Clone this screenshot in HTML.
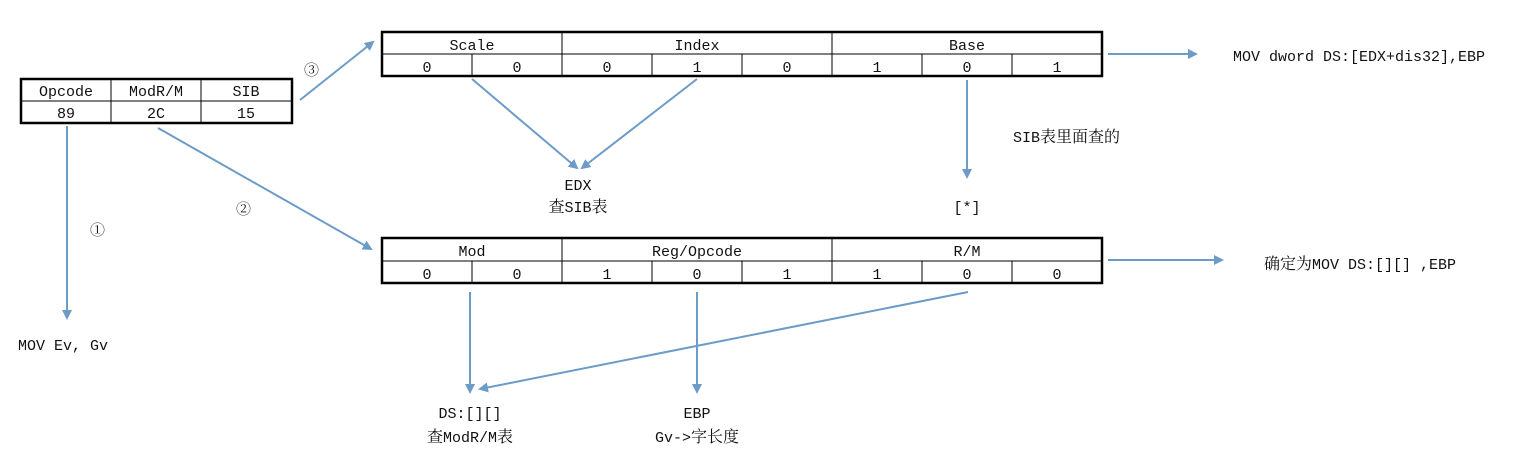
<!DOCTYPE html>
<html><head><meta charset="utf-8"><style>
html,body{margin:0;padding:0;background:#fff;}
svg{display:block;}
text{font-family:"Liberation Mono","Noto Serif CJK SC",monospace;font-size:15px;fill:#111;}
.k{font-family:"Noto Serif CJK SC","Noto Sans CJK SC",serif;font-size:16px;}
.c{text-anchor:middle;}
.ar{stroke:#6d9bc7;stroke-width:2;fill:none;}
.tb{stroke:#000;fill:none;}
</style></head><body>
<svg width="1536" height="453" viewBox="0 0 1536 453" xmlns="http://www.w3.org/2000/svg">
<defs><marker id="ah" markerWidth="10" markerHeight="10" refX="8" refY="5" orient="auto" markerUnits="userSpaceOnUse"><path d="M0,0 L10,5 L0,10 z" fill="#6d9bc7"/></marker></defs>

<g>
<rect class="tb" x="21" y="79" width="271" height="44" stroke-width="2.5"/>
<line class="tb" x1="21" y1="101" x2="292" y2="101" stroke-width="1"/>
<line class="tb" x1="111" y1="79" x2="111" y2="123" stroke-width="1"/>
<line class="tb" x1="201" y1="79" x2="201" y2="123" stroke-width="1"/>
<text class="c" x="66" y="96">Opcode</text><text class="c" x="156" y="96">ModR/M</text><text class="c" x="246" y="96">SIB</text>
<text class="c" x="66" y="118">89</text><text class="c" x="156" y="118">2C</text><text class="c" x="246" y="118">15</text>
</g>

<g>
<rect class="tb" x="382" y="32" width="720" height="44" stroke-width="2.5"/>
<line class="tb" x1="382" y1="54" x2="1102" y2="54" stroke-width="1"/>
<line class="tb" x1="562" y1="32" x2="562" y2="76" stroke-width="1"/>
<line class="tb" x1="832" y1="32" x2="832" y2="76" stroke-width="1"/>
<line class="tb" x1="472" y1="54" x2="472" y2="76" stroke-width="1"/>
<line class="tb" x1="652" y1="54" x2="652" y2="76" stroke-width="1"/>
<line class="tb" x1="742" y1="54" x2="742" y2="76" stroke-width="1"/>
<line class="tb" x1="922" y1="54" x2="922" y2="76" stroke-width="1"/>
<line class="tb" x1="1012" y1="54" x2="1012" y2="76" stroke-width="1"/>
<text class="c" x="472" y="50">Scale</text><text class="c" x="697" y="50">Index</text><text class="c" x="967" y="50">Base</text>
<text class="c" x="427" y="72">0</text><text class="c" x="517" y="72">0</text><text class="c" x="607" y="72">0</text><text class="c" x="697" y="72">1</text><text class="c" x="787" y="72">0</text><text class="c" x="877" y="72">1</text><text class="c" x="967" y="72">0</text><text class="c" x="1057" y="72">1</text>
</g>

<g>
<rect class="tb" x="382" y="238" width="720" height="45" stroke-width="2.5"/>
<line class="tb" x1="382" y1="261" x2="1102" y2="261" stroke-width="1"/>
<line class="tb" x1="562" y1="238" x2="562" y2="283" stroke-width="1"/>
<line class="tb" x1="832" y1="238" x2="832" y2="283" stroke-width="1"/>
<line class="tb" x1="472" y1="261" x2="472" y2="283" stroke-width="1"/>
<line class="tb" x1="652" y1="261" x2="652" y2="283" stroke-width="1"/>
<line class="tb" x1="742" y1="261" x2="742" y2="283" stroke-width="1"/>
<line class="tb" x1="922" y1="261" x2="922" y2="283" stroke-width="1"/>
<line class="tb" x1="1012" y1="261" x2="1012" y2="283" stroke-width="1"/>
<text class="c" x="472" y="256">Mod</text><text class="c" x="697" y="256">Reg/Opcode</text><text class="c" x="967" y="256">R/M</text>
<text class="c" x="427" y="279">0</text><text class="c" x="517" y="279">0</text><text class="c" x="607" y="279">1</text><text class="c" x="697" y="279">0</text><text class="c" x="787" y="279">1</text><text class="c" x="877" y="279">1</text><text class="c" x="967" y="279">0</text><text class="c" x="1057" y="279">0</text>
</g>

<g>
<line class="ar" x1="300" y1="100" x2="373" y2="42" marker-end="url(#ah)"/>
<line class="ar" x1="67" y1="126" x2="67" y2="318" marker-end="url(#ah)"/>
<line class="ar" x1="158" y1="128" x2="371" y2="249" marker-end="url(#ah)"/>
<line class="ar" x1="472" y1="79" x2="577" y2="168" marker-end="url(#ah)"/>
<line class="ar" x1="697" y1="79" x2="582" y2="168" marker-end="url(#ah)"/>
<line class="ar" x1="967" y1="80" x2="967" y2="177" marker-end="url(#ah)"/>
<line class="ar" x1="1108" y1="54" x2="1196" y2="54" marker-end="url(#ah)"/>
<line class="ar" x1="1108" y1="260" x2="1222" y2="260" marker-end="url(#ah)"/>
<line class="ar" x1="470" y1="292" x2="470" y2="392" marker-end="url(#ah)"/>
<line class="ar" x1="697" y1="292" x2="697" y2="392" marker-end="url(#ah)"/>
<line class="ar" x1="968" y1="292" x2="480" y2="389" marker-end="url(#ah)"/>
</g>

<g>
<text x="304" y="75" font-size="20">③</text>
<text x="236" y="214" font-size="20">②</text>
<text x="90" y="235" font-size="20">①</text>
<text x="1233" y="61">MOV dword DS:[EDX+dis32],EBP</text>
<text x="1013" y="142">SIB<tspan class="k">表里面查的</tspan></text>
<text class="c" x="578" y="190">EDX</text>
<text class="c" x="578" y="212"><tspan class="k">查</tspan>SIB<tspan class="k">表</tspan></text>
<text class="c" x="967" y="212">[*]</text>
<text x="1264" y="269"><tspan class="k">确定为</tspan>MOV DS:[][] ,EBP</text>
<text x="18" y="350">MOV Ev, Gv</text>
<text class="c" x="470" y="418">DS:[][]</text>
<text class="c" x="470" y="442"><tspan class="k">查</tspan>ModR/M<tspan class="k">表</tspan></text>
<text class="c" x="697" y="418">EBP</text>
<text class="c" x="697" y="442">Gv-&gt;<tspan class="k">字长度</tspan></text>
</g>
</svg>
</body></html>
